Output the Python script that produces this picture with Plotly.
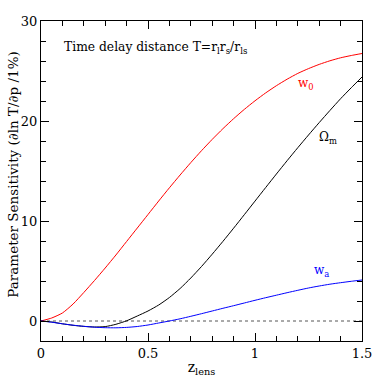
import plotly.graph_objects as go

# redshift grid and sensitivities
z_lens = [0.0, 0.05, 0.1, 0.15, 0.2, 0.25, 0.3, 0.35, 0.4, 0.45, 0.5,
          0.55, 0.6, 0.65, 0.7, 0.75, 0.8, 0.85, 0.9, 0.95, 1.0,
          1.05, 1.1, 1.15, 1.2, 1.25, 1.3, 1.35, 1.4, 1.45, 1.5]

w0 = [0.0, 0.3, 0.8, 1.7, 2.85, 4.05, 5.3, 6.6, 7.95, 9.3, 10.65,
      12.0, 13.32, 14.6, 15.84, 17.03, 18.16, 19.23, 20.23, 21.16, 22.02,
      22.81, 23.53, 24.18, 24.76, 25.24, 25.66, 26.02, 26.32, 26.55, 26.75]

omega_m = [0.0, -0.1, -0.28, -0.43, -0.54, -0.6, -0.56, -0.33, 0.02, 0.5, 1.0,
           1.6, 2.35, 3.25, 4.3, 5.45, 6.68, 7.96, 9.28, 10.63, 11.99,
           13.35, 14.7, 16.03, 17.33, 18.6, 19.84, 21.05, 22.23, 23.33, 24.4]

wa = [0.0, -0.12, -0.28, -0.42, -0.53, -0.62, -0.67, -0.68, -0.64, -0.55, -0.4,
      -0.2, 0.0, 0.22, 0.47, 0.73, 1.0, 1.27, 1.53, 1.8, 2.07,
      2.33, 2.58, 2.83, 3.07, 3.3, 3.5, 3.68, 3.83, 3.97, 4.1]

x_ticks = [0, 0.5, 1, 1.5]
x_tick_labels = ["0", "0.5", "1", "1.5"]
y_ticks = [0, 10, 20, 30]
y_tick_labels = ["0", "10", "20", "30"]

FONT = "DejaVu Serif"

fig = go.Figure()

# dotted zero reference
fig.add_trace(go.Scatter(x=[z_lens[0], z_lens[-1]], y=[0, 0], mode="lines",
                         line=dict(color="#555555", width=1, dash="dot"),
                         showlegend=False, hoverinfo="skip"))

for ys, col in [(w0, "red"), (omega_m, "black"), (wa, "blue")]:
    fig.add_trace(go.Scatter(x=z_lens, y=ys, mode="lines",
                             line=dict(color=col, width=1, shape="spline", smoothing=0.6),
                             showlegend=False))

fig.add_annotation(x=1.24, y=24.7, text="w<sub>0</sub>", showarrow=False,
                   font=dict(family=FONT, size=12, color="red"),
                   xanchor="center", yanchor="top")
fig.add_annotation(x=1.34, y=18.3, text="Ω<sub>m</sub>", showarrow=False,
                   font=dict(family=FONT, size=12, color="black"),
                   xanchor="center", yanchor="middle")
fig.add_annotation(x=1.31, y=4.0, text="w<sub>a</sub>", showarrow=False,
                   font=dict(family=FONT, size=12, color="blue"),
                   xanchor="center", yanchor="bottom")
fig.add_annotation(x=0.1, y=27.3, xanchor="left", yanchor="middle",
                   text="Time delay distance T=r<sub>l</sub>r<sub>s</sub>/r<sub>ls</sub>",
                   showarrow=False, font=dict(family=FONT, size=12.3, color="black"))

# y-axis title as a rotated annotation so it sits clear of the tick labels
fig.add_annotation(xref="paper", yref="paper", x=-0.087, y=0.52,
                   xanchor="center", yanchor="middle", textangle=-90,
                   text="Parameter Sensitivity (∂ln T/∂p /1%)", showarrow=False,
                   font=dict(family=FONT, size=13.5, color="black"))

axis_common = dict(showline=True, linecolor="black", linewidth=1, mirror="allticks",
                   ticks="inside", tickcolor="black", tickwidth=1, ticklen=8,
                   showgrid=False, zeroline=False, automargin=False,
                   tickfont=dict(family=FONT, size=13, color="black"))

fig.update_xaxes(range=[0, 1.5], tickvals=x_ticks, ticktext=x_tick_labels,
                 minor=dict(dtick=0.1, ticks="inside", ticklen=5,
                            tickcolor="black", tickwidth=1, showgrid=False),
                 title=dict(text="z<sub>lens</sub>", standoff=2,
                            font=dict(family=FONT, size=14, color="black")),
                 **axis_common)
fig.update_yaxes(range=[-2, 30], tickvals=y_ticks, ticktext=y_tick_labels,
                 minor=dict(dtick=2, ticks="inside", ticklen=5,
                            tickcolor="black", tickwidth=1, showgrid=False),
                 **axis_common)

fig.update_layout(width=382, height=382, plot_bgcolor="white", paper_bgcolor="white",
                  margin=dict(l=41, r=20, t=21, b=41), showlegend=False)

# drop the page's default 8px body margin so the figure fills the window
fig.write_html("out.html", config={"displayModeBar": False},
               post_script="document.body.style.margin = '0';")
